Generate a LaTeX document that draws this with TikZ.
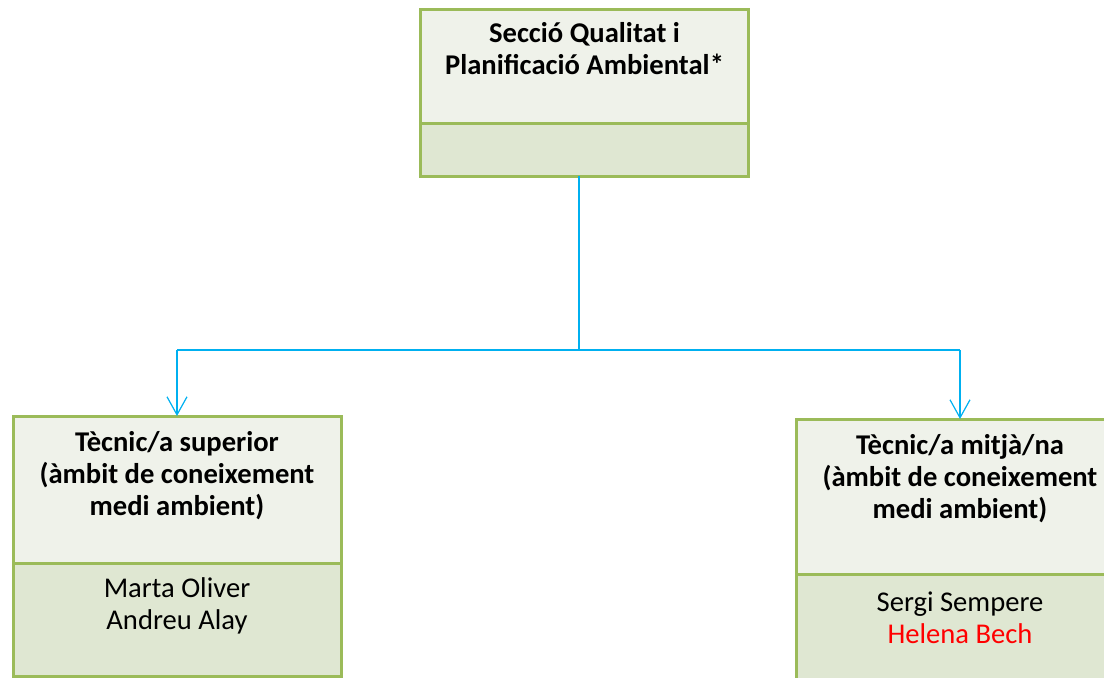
\documentclass[tikz,border=0pt]{standalone}
\usepackage{fontspec}
\setmainfont{Carlito}
\usepackage{xcolor}
\usepackage{tikz}
\usetikzlibrary{arrows.meta, positioning}

\definecolor{boxline}{HTML}{9BBB59}
\definecolor{headfill}{HTML}{EFF2EA}
\definecolor{bodyfill}{HTML}{DFE7D2}
\definecolor{linkblue}{HTML}{00B0F0}

\begin{document}
\begin{tikzpicture}[x=0.5pt, y=0.5pt,
  every node/.style={font=\fontsize{14.3}{16}\selectfont},
  head/.style={draw=boxline, line width=1.5pt, fill=headfill, minimum width=164pt, inner sep=0pt, outer sep=0pt, anchor=north},
  body/.style={draw=boxline, line width=1.5pt, fill=bodyfill, minimum width=164pt, inner sep=0pt, outer sep=0pt, anchor=north},
  title/.style={anchor=north, align=center, inner sep=0pt, font=\fontsize{14.3}{16}\selectfont\bfseries},
  names/.style={anchor=north, align=center, inner sep=0pt},
  link/.style={draw=linkblue, line width=1pt},
  >={Straight Barb[length=9pt, width=10pt]}]
  \useasboundingbox (0,0) rectangle (1104,677);
  \clip (0,0) rectangle (1104,677);

  % Section (top)
  \node[head, minimum height=57pt] (qualhead) at (584.5,668) {};
  \node[body, minimum height=26.5pt] (qualbody) at (qualhead.south) {};
  \node[title, below=6.5pt of qualhead.north] (qualtitle) {Secció Qualitat i\\Planificació Ambiental*};

  % Senior technician (left)
  \node[head, minimum height=73.5pt] (suphead) at (177,261) {};
  \node[body, minimum height=56.5pt] (supbody) at (suphead.south) {};
  \node[title, below=7.5pt of suphead.north] (suptitle) {Tècnic/a superior\\(àmbit de coneixement\\medi ambient)};
  \node[names, below=7pt of supbody.north] (supnames) {Marta Oliver\\Andreu Alay};

  % Middle technician (right)
  \node[head, minimum height=77.5pt] (midhead) at (960,258) {};
  \node[body, minimum height=60pt] (midbody) at (midhead.south) {};
  \node[title, below=7.5pt of midhead.north] (midtitle) {Tècnic/a mitjà/na\\(àmbit de coneixement\\medi ambient)};
  \node[names, below=8.5pt of midbody.north] (midnames) {Sergi Sempere\\\textcolor{red}{Helena Bech}};

  % Connectors
  \coordinate (fork) at (579,327);
  \draw[link, line width=1.3pt] (qualbody.south -| fork) -- (fork);
  \draw[link] (suphead.north |- fork) -- (midhead.north |- fork);
  \draw[link, line width=0.6pt, ->] (suphead.north |- fork) -- (suphead.north);
  \draw[link, line width=0.6pt, ->] (midhead.north |- fork) -- (midhead.north);
\end{tikzpicture}
\end{document}
